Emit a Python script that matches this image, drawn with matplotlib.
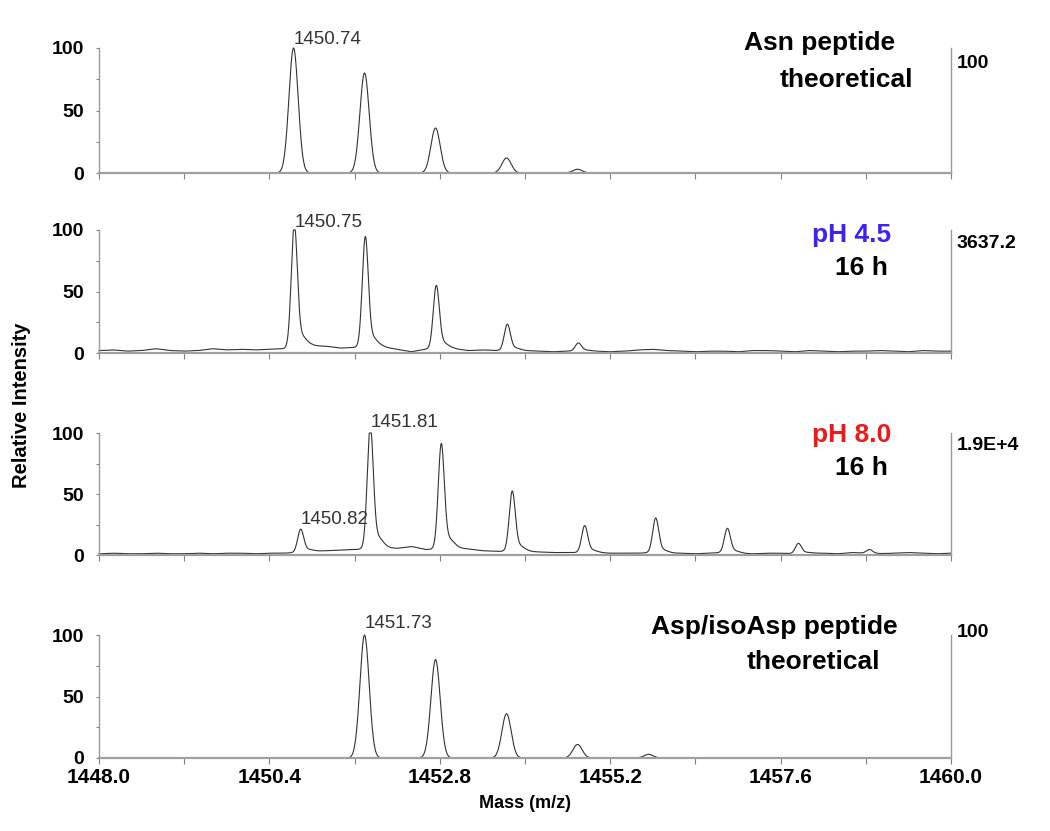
import numpy as np
import matplotlib
matplotlib.use("Agg")
import matplotlib.pyplot as plt
from matplotlib.ticker import MultipleLocator

plt.rcParams['font.family'] = ['Liberation Sans', 'DejaVu Sans']

# peak centroids (m/z) and relative intensities for each spectrum
asn_mz = [1450.74, 1451.74, 1452.74, 1453.74, 1454.74]
asn_int = [100, 80, 36, 12, 3]

ph45_mz = [1450.75, 1451.75, 1452.75, 1453.75, 1454.75]
ph45_int = [96, 86, 49, 20, 6]

ph80_mz = [1450.84, 1451.82, 1452.82, 1453.82, 1454.84, 1455.84, 1456.85, 1457.85, 1458.85]
ph80_int = [18, 96, 82, 47, 21, 27, 19, 8, 3]

asp_mz = [1451.74, 1452.74, 1453.74, 1454.74, 1455.74]
asp_int = [100, 80, 36, 11, 3]

# baseline levels of the measured spectra, every 0.2 m/z from 1448.0 to 1460.0
base_mz = np.round(np.arange(1448.0, 1460.01, 0.2), 2)
ph45_base = [2.0, 2.5, 1.5, 2.0, 3.5, 2.0, 1.5, 2.0, 3.5, 2.5, 3.0, 2.5, 3.0, 3.5,
             4.0, 6.0, 5.5, 4.0, 4.5, 4.0, 5.0, 3.0, 1.0, 3.0, 3.5, 3.5, 2.0, 2.5,
             2.0, 2.5, 2.0, 1.5, 1.0, 1.5, 2.0, 1.5, 1.0, 1.5, 2.5, 3.0, 2.0, 1.5,
             1.0, 1.5, 1.5, 1.0, 2.0, 2.0, 1.5, 1.0, 2.0, 1.5, 1.0, 1.5, 1.5, 2.0,
             1.5, 1.0, 2.0, 1.5, 1.5]
ph80_base = [1.0, 1.5, 1.0, 1.0, 1.5, 1.0, 1.0, 1.5, 1.0, 1.5, 1.5, 1.0, 1.5, 1.5,
             2.0, 3.0, 3.5, 4.0, 4.5, 5.0, 6.0, 5.5, 7.0, 4.5, 5.0, 6.0, 5.0, 3.5,
             3.0, 3.0, 3.0, 2.5, 2.0, 2.0, 2.0, 2.0, 1.5, 1.5, 1.5, 2.0, 1.5, 1.5,
             1.0, 1.5, 2.0, 1.5, 1.0, 1.5, 1.5, 1.0, 1.5, 1.5, 1.0, 2.0, 1.5, 1.0,
             1.5, 2.0, 1.5, 1.0, 1.5]

right_labels = ["100", "3637.2", "1.9E+4", "100"]
xticks = [1448.0, 1450.4, 1452.8, 1455.2, 1457.6, 1460.0]
xtick_labels = ["1448.0", "1450.4", "1452.8", "1455.2", "1457.6", "1460.0"]

mz = np.linspace(1448.0, 1460.0, 4801)


def theo_profile(centres, heights, sigma=0.065):
    y = np.zeros_like(mz)
    for c, h in zip(centres, heights):
        y += h * np.exp(-0.5 * ((mz - c) / sigma) ** 2)
    return y


def meas_profile(centres, heights, base):
    y = np.interp(mz, base_mz, base)
    for c, h in zip(centres, heights):
        y += h * np.exp(-0.5 * ((mz - c) / 0.042) ** 2)
        y += 0.1 * h * np.exp(-0.5 * ((mz - c - 0.09) / 0.08) ** 2)
    return np.minimum(y, 100)


spectra = [
    theo_profile(asn_mz, asn_int),
    meas_profile(ph45_mz, ph45_int, ph45_base),
    meas_profile(ph80_mz, ph80_int, ph80_base),
    theo_profile(asp_mz, asp_int),
]

fig = plt.figure(figsize=(10.5, 8.31), dpi=100)
left, width = 99 / 1050, (951 - 99) / 1050
bottoms = [173, 353, 555, 758]
tops = [48, 230, 433, 635]
minor_x = [(a + b) / 2 for a, b in zip(xticks[:-1], xticks[1:])]

axes = []
for i in range(4):
    b = 1 - bottoms[i] / 831
    h = (bottoms[i] - tops[i]) / 831
    ax = fig.add_axes([left, b, width, h])
    axes.append(ax)
    ax.plot(mz, spectra[i], color='#333333', lw=0.8, clip_on=False)
    ax.set_xlim(1448.0, 1460.0)
    ax.set_ylim(0, 100)
    ax.spines['top'].set_visible(False)
    for s in ['left', 'right']:
        ax.spines[s].set_color('#9a9a9a')
        ax.spines[s].set_linewidth(1.0)
    ax.spines['bottom'].set_color('#a0a0a0')
    ax.spines['bottom'].set_linewidth(1.6)
    ax.set_xticks(xticks)
    ax.set_xticklabels(xtick_labels)
    ax.set_xticks(minor_x, minor=True)
    ax.set_yticks([0, 50, 100])
    ax.yaxis.set_minor_locator(MultipleLocator(25))
    ax.tick_params(axis='x', which='both', direction='out', length=4,
                   color='#808080', width=0.8, labelsize=15, pad=3)
    ax.tick_params(axis='y', which='both', direction='out', length=2.5,
                   color='#808080', width=0.8, labelsize=14, pad=8)
    for lab in ax.get_yticklabels() + ax.get_xticklabels():
        lab.set_fontweight('bold')
    if i < 3:
        ax.tick_params(axis='x', labelbottom=False)
    ax.text(1.007, [0.88, 0.894, 0.90, 1.02][i], right_labels[i],
            transform=ax.transAxes, ha='left', va='center',
            fontsize=14, fontweight='bold')

# titles inside panels
tkw = dict(ha='right', va='center', fontsize=19, fontweight='bold')
axes[0].text(0.934, 1.04, "Asn peptide", transform=axes[0].transAxes, **tkw)
axes[0].text(0.955, 0.742, "theoretical", transform=axes[0].transAxes, **tkw)
axes[1].text(0.930, 0.96, "pH 4.5", color='#3d22f5', transform=axes[1].transAxes, **tkw)
axes[1].text(0.926, 0.69, "16 h", transform=axes[1].transAxes, **tkw)
axes[2].text(0.930, 0.984, "pH 8.0", color='#f01818', transform=axes[2].transAxes, **tkw)
axes[2].text(0.926, 0.713, "16 h", transform=axes[2].transAxes, **tkw)
axes[3].text(0.937, 1.065, "Asp/isoAsp peptide", transform=axes[3].transAxes, **tkw)
axes[3].text(0.917, 0.78, "theoretical", transform=axes[3].transAxes, **tkw)

# peak annotations
akw = dict(ha='left', va='center', fontsize=13.5, color='#333333')
axes[0].text(asn_mz[0], 107, "1450.74", **akw)
axes[1].text(ph45_mz[0], 106, "1450.75", **akw)
axes[2].text(ph80_mz[1], 109, "1451.81", **akw)
axes[2].text(ph80_mz[0], 29, "1450.82", **akw)
axes[3].text(asp_mz[0], 109, "1451.73", **akw)

fig.text(22 / 1050, 1 - 405 / 831, "Relative Intensity", rotation=90,
         ha='center', va='center', fontsize=14.5, fontweight='bold')
fig.text(525 / 1050, 1 - 803 / 831, "Mass (m/z)", ha='center', va='center',
         fontsize=13, fontweight='bold')

fig.savefig("out.png", dpi=100)
